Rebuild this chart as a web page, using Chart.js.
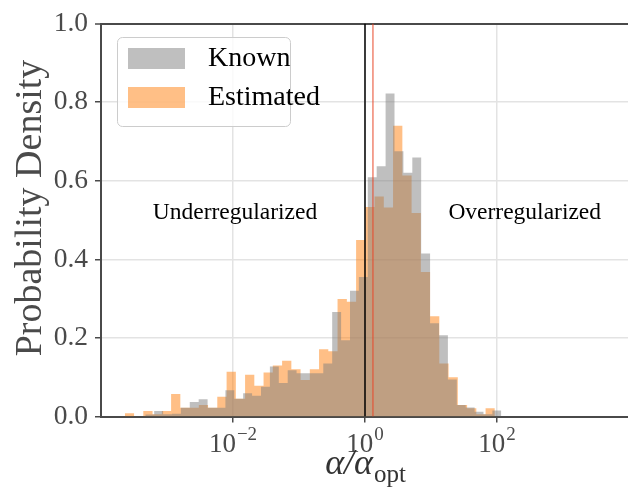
<!DOCTYPE html>
<html>
<head>
<meta charset="utf-8">
<script src="https://cdn.jsdelivr.net/npm/chart.js@4.4.0/dist/chart.umd.min.js"></script>
<style>
  html, body { margin: 0; padding: 0; background: #fff; overflow: hidden; }
  #wrap { width: 630px; height: 499px; }
</style>
</head>
<body>
<div id="wrap"><canvas id="chart"></canvas></div>
<script>
// histogram bin edges, in log10(alpha / alpha_opt)
const knownEdges = [
  -3.329, -3.194, -3.059, -2.924, -2.790, -2.655, -2.520, -2.385, -2.250, -2.115,
  -1.981, -1.846, -1.711, -1.576, -1.441, -1.306, -1.171, -1.037, -0.902, -0.767,
  -0.632, -0.497, -0.362, -0.227, -0.093, 0.042, 0.177, 0.312, 0.447, 0.582,
  0.717, 0.851, 0.986, 1.121, 1.256, 1.391, 1.526, 1.661, 1.795, 1.930, 2.065
];
const knownDensity = [
  0.005, 0.014, 0.006, 0.007, 0.022, 0.037, 0.044, 0.022, 0.022, 0.067,
  0.045, 0.059, 0.053, 0.076, 0.127, 0.085, 0.118, 0.110, 0.110, 0.110,
  0.135, 0.266, 0.194, 0.320, 0.355, 0.609, 0.637, 0.822, 0.675, 0.620,
  0.659, 0.415, 0.237, 0.207, 0.094, 0.029, 0.023, 0.012, 0.006, 0.015
];
const estimatedEdges = [
  -3.639, -3.499, -3.359, -3.219, -3.078, -2.938, -2.798, -2.658, -2.518, -2.378,
  -2.238, -2.097, -1.957, -1.817, -1.677, -1.537, -1.397, -1.256, -1.116, -0.976,
  -0.836, -0.696, -0.556, -0.416, -0.275, -0.135, 0.005, 0.145, 0.285, 0.425,
  0.566, 0.706, 0.846, 0.986, 1.126, 1.266, 1.406, 1.547, 1.687, 1.827, 1.967
];
const estimatedDensity = [
  0.008, 0.000, 0.014, 0.006, 0.014, 0.057, 0.022, 0.022, 0.029, 0.022,
  0.050, 0.114, 0.045, 0.106, 0.078, 0.112, 0.130, 0.142, 0.120, 0.093,
  0.120, 0.171, 0.166, 0.299, 0.292, 0.449, 0.533, 0.560, 0.532, 0.740,
  0.613, 0.518, 0.368, 0.255, 0.135, 0.100, 0.029, 0.021, 0.006, 0.021
];
const xTickExponents = [-2, 0, 2];
const yTickValues = [0, 0.2, 0.4, 0.6, 0.8, 1.0];
const optimumRatio = 1;      // black line
const medianRatio = 1.32;    // red line

const SERIF = "'Liberation Serif', 'DejaVu Serif', serif";
const AXIS_COLOR = "#4a4a4a";
const GRID_COLOR = "#e3e3e3";
const KNOWN_FILL = "rgba(128, 128, 128, 0.5)";
const EST_FILL = "rgba(255, 127, 14, 0.5)";

function histPoints(edges, dens) {
  const pts = dens.map((d, i) => ({ x: Math.pow(10, edges[i]), y: d }));
  pts.push({ x: Math.pow(10, edges[edges.length - 1]), y: 0 });
  return pts;
}

function vline(v) {
  return [{ x: v, y: 0 }, { x: v, y: 1 }];
}

const legendItems = [
  { label: "Known", color: KNOWN_FILL },
  { label: "Estimated", color: EST_FILL },
];

const notes = [
  { text: "Underregularized", x: Math.pow(10, -1.97), y: 0.517 },
  { text: "Overregularized", x: Math.pow(10, 2.42), y: 0.517 },
];

// legend box, region labels, 10^n tick labels and the axis titles
const overlay = {
  id: "overlay",
  afterDatasetsDraw(chart) {
    const { ctx, scales } = chart;
    ctx.save();
    ctx.fillStyle = "#000";
    ctx.font = "23.5px " + SERIF;
    ctx.textAlign = "center";
    ctx.textBaseline = "middle";
    notes.forEach((n) => {
      ctx.fillText(n.text, scales.x.getPixelForValue(n.x), scales.y.getPixelForValue(n.y));
    });
    ctx.restore();
  },
  afterDraw(chart) {
    const { ctx, chartArea } = chart;
    const xs = chart.scales.x;
    ctx.save();
    // legend frame
    const bx = 117, by = 37, bw = 173, bh = 89;
    ctx.beginPath();
    ctx.roundRect(bx + 0.5, by + 0.5, bw, bh, 5);
    ctx.fillStyle = "rgba(255,255,255,0.8)";
    ctx.fill();
    ctx.strokeStyle = "#cccccc";
    ctx.lineWidth = 1;
    ctx.stroke();
    ctx.font = "28px " + SERIF;
    ctx.textBaseline = "middle";
    ctx.textAlign = "left";
    legendItems.forEach((item, i) => {
      const y = by + 21 + i * 39;
      ctx.fillStyle = item.color;
      ctx.fillRect(bx + 11, y - 10, 57, 21);
      ctx.fillStyle = "#000";
      ctx.fillText(item.label, bx + 91, y + 1);
    });

    // x tick labels 10^n
    ctx.fillStyle = AXIS_COLOR;
    ctx.textBaseline = "alphabetic";
    ctx.textAlign = "left";
    xs.ticks.forEach((t, i) => {
      const px = xs.getPixelForValue(t.value);
      const exp = String(xTickExponents[i]).replace("-", "\u2212");
      ctx.font = "27px " + SERIF;
      const wb = ctx.measureText("10").width;
      ctx.font = "19px " + SERIF;
      const we = ctx.measureText(exp).width;
      const left = px - (wb + we + 1) / 2;
      ctx.font = "27px " + SERIF;
      ctx.fillText("10", left, 452);
      ctx.font = "19px " + SERIF;
      ctx.fillText(exp, left + wb + 1, 440);
    });

    // x axis title: alpha / alpha_opt
    const cx = xs.getPixelForValue(1);
    ctx.fillStyle = "#333";
    ctx.font = "italic 36px " + SERIF;
    const main = "\u03b1/\u03b1";
    const sub = "opt";
    const wMain = ctx.measureText(main).width;
    ctx.font = "25px " + SERIF;
    const wSub = ctx.measureText(sub).width;
    const x0 = cx - (wMain + wSub) / 2;
    ctx.font = "italic 36px " + SERIF;
    ctx.fillText(main, x0, 474);
    ctx.font = "25px " + SERIF;
    ctx.fillText(sub, x0 + wMain + 1, 482);

    // y axis title
    ctx.translate(31, (chartArea.top + chartArea.bottom) / 2 - 12);
    ctx.rotate(-Math.PI / 2);
    ctx.textAlign = "center";
    ctx.textBaseline = "middle";
    ctx.fillStyle = AXIS_COLOR;
    ctx.font = "38px " + SERIF;
    ctx.fillText("Probability Density", 0, 0);
    ctx.restore();
  },
};

new Chart(document.getElementById("chart"), {
  type: "line",
  data: {
    datasets: [
      { data: vline(optimumRatio), borderColor: "#000", borderWidth: 1.5, pointRadius: 0, fill: false },
      { data: vline(medianRatio), borderColor: "#e8482a", borderWidth: 1, pointRadius: 0, fill: false },
      {
        label: "Known",
        data: histPoints(knownEdges, knownDensity),
        stepped: "before",
        backgroundColor: KNOWN_FILL,
        borderColor: "transparent",
        borderWidth: 0,
        pointRadius: 0,
        fill: "origin",
      },
      {
        label: "Estimated",
        data: histPoints(estimatedEdges, estimatedDensity),
        stepped: "before",
        backgroundColor: EST_FILL,
        borderColor: "transparent",
        borderWidth: 0,
        pointRadius: 0,
        fill: "origin",
      },
    ],
  },
  options: {
    responsive: true,
    maintainAspectRatio: false,
    animation: false,
    events: [],
    layout: { padding: { top: 23, right: 1, left: 0, bottom: 0 } },
    plugins: { legend: { display: false }, tooltip: { enabled: false } },
    scales: {
      x: {
        type: "logarithmic",
        min: 1e-4,
        max: 1e4,
        afterBuildTicks: (axis) => {
          axis.ticks = xTickExponents.map((e) => ({ value: Math.pow(10, e) }));
        },
        afterFit: (axis) => { axis.height = 82.5; },
        ticks: { display: false, autoSkip: false, maxRotation: 0 },
        grid: { color: GRID_COLOR, lineWidth: 1.5, tickLength: 6, tickColor: AXIS_COLOR, tickWidth: 1.5 },
        border: { display: true, color: AXIS_COLOR, width: 2 },
      },
      y: {
        min: 0,
        max: 1,
        afterBuildTicks: (axis) => {
          axis.ticks = yTickValues.map((v) => ({ value: v }));
        },
        afterFit: (axis) => { axis.width = 101; },
        ticks: {
          padding: 7,
          color: AXIS_COLOR,
          font: { family: SERIF, size: 27.5 },
          callback: (v) => v.toFixed(1),
        },
        grid: {
          color: (c) => (c.tick && c.tick.value === 1 ? AXIS_COLOR : GRID_COLOR),
          lineWidth: (c) => (c.tick && c.tick.value === 1 ? 2 : 1.5),
          tickLength: 6,
          tickColor: AXIS_COLOR,
          tickWidth: 1.5,
        },
        border: { display: true, color: AXIS_COLOR, width: 2 },
      },
    },
  },
  plugins: [overlay],
});
</script>
</body>
</html>
